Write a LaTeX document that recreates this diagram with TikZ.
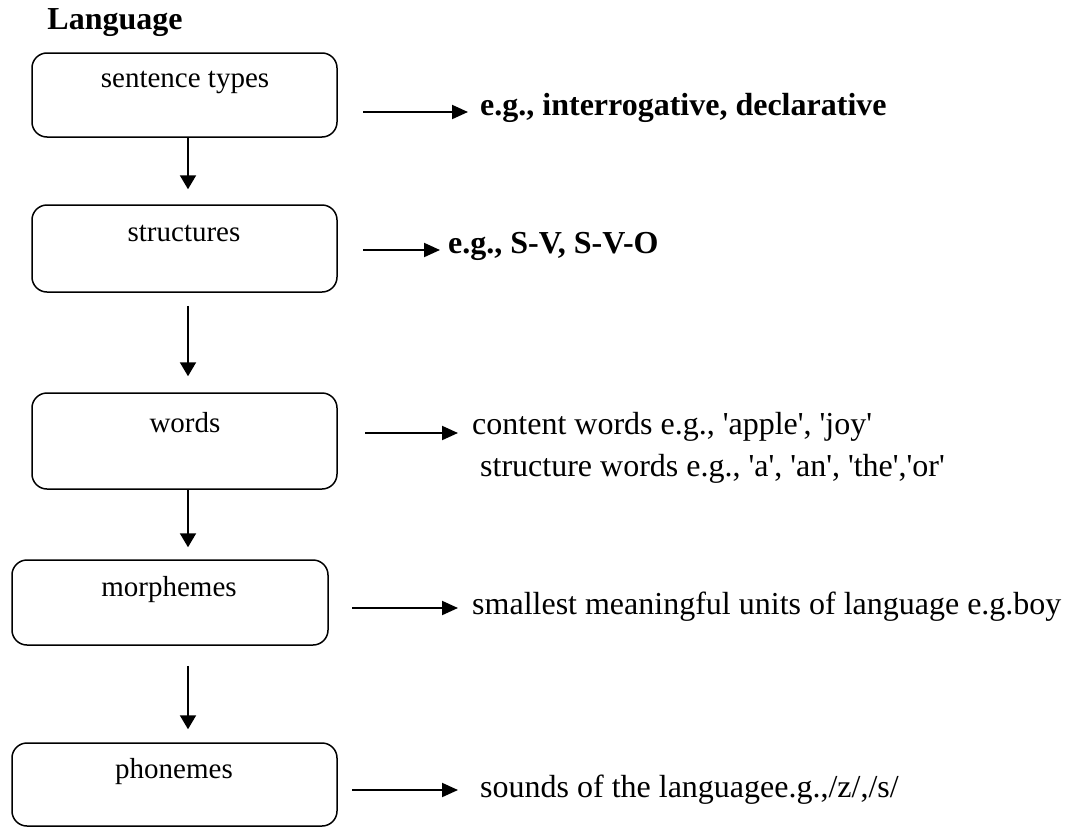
\documentclass[tikz,border=0pt]{standalone}
\usepackage{fontspec}
\setmainfont{Liberation Serif}
\usetikzlibrary{arrows.meta}
\newcommand{\sq}{\textquotesingle}
\begin{document}
\begin{tikzpicture}[x=1pt,y=-1pt,
  box/.style={draw=black, line width=1.5pt, rounded corners=15pt, inner sep=0pt},
  boxtext/.style={font=\fontsize{29}{34}\selectfont, inner sep=0pt},
  ttl/.style={font=\bfseries\fontsize{32}{38}\selectfont, inner sep=0pt},
  rtext/.style={font=\fontsize{32}{38}\selectfont, anchor=west, inner sep=0pt, text height=0.7em, text depth=0.2em},
  rbold/.style={rtext, font=\bfseries\fontsize{32}{38}\selectfont},
  darr/.style={draw=black, line width=2pt, -{Triangle[length=14pt,width=16pt]}},
  rarr/.style={draw=black, line width=2pt, -{Triangle[length=16pt,width=14pt]}}]
\useasboundingbox (0,0) rectangle (1065,827);
\node[ttl] (title) at (115,23) {Language};
% boxes
\node[box, minimum width=305pt, minimum height=84pt] (b1) at (184.5,95) {};
\node[box, minimum width=305pt, minimum height=87pt] (b2) at (184.5,248.5) {};
\node[box, minimum width=305pt, minimum height=96pt] (b3) at (184.5,441) {};
\node[box, minimum width=316pt, minimum height=85pt] (b4) at (170,602.5) {};
\node[box, minimum width=325pt, minimum height=83pt] (b5) at (174.5,784.5) {};
% box texts
\node[boxtext] (t1) at (185,82) {sentence types};
\node[boxtext] (t2) at (184,233) {structures};
\node[boxtext] (t3) at (185,423) {words};
\node[boxtext] (t4) at (169,590) {morphemes};
\node[boxtext] (t5) at (174,772) {phonemes};
% down arrows
\coordinate (ax) at (188,0);
\draw[darr, shorten >=15pt] (b1.south -| ax) -- (b2.north -| ax);
\draw[darr, shorten <=13pt, shorten >=16pt] (b2.south -| ax) -- (b3.north -| ax);
\draw[darr, shorten >=12pt] (b3.south -| ax) -- (b4.north -| ax);
\draw[darr, shorten <=20pt, shorten >=13pt] (b4.south -| ax) -- (b5.north -| ax);
% right texts
\node[rbold] (r1) at (480,113) {e.g., interrogative, declarative};
\node[rbold] (r2) at (448,251) {e.g., S-V, S-V-O};
\node[rtext] (r3) at (472,432) {content words e.g., \sq apple\sq, \sq joy\sq};
\node[rtext] (r3b) at (480,474) {structure words e.g., \sq a\sq, \sq an\sq, \sq the\sq,\sq or\sq};
\node[rtext] (r4) at (472,612) {smallest meaningful units of language e.g.boy};
\node[rtext] (r5) at (480,795) {sounds of the languagee.g.,/z/,/s/};
% right arrows
\coordinate (s1) at (363,112);
\coordinate (s2) at (363,250);
\coordinate (s3) at (365,433);
\coordinate (s4) at (352,608);
\coordinate (s5) at (352,790);
\draw[rarr, shorten >=12pt] (s1) -- (s1 -| r1.west);
\draw[rarr, shorten >=8pt] (s2) -- (s2 -| r2.west);
\draw[rarr, shorten >=14pt] (s3) -- (s3 -| r3.west);
\draw[rarr, shorten >=14pt] (s4) -- (s4 -| r4.west);
\draw[rarr, shorten >=22pt] (s5) -- (s5 -| r5.west);
\end{tikzpicture}
\end{document}
